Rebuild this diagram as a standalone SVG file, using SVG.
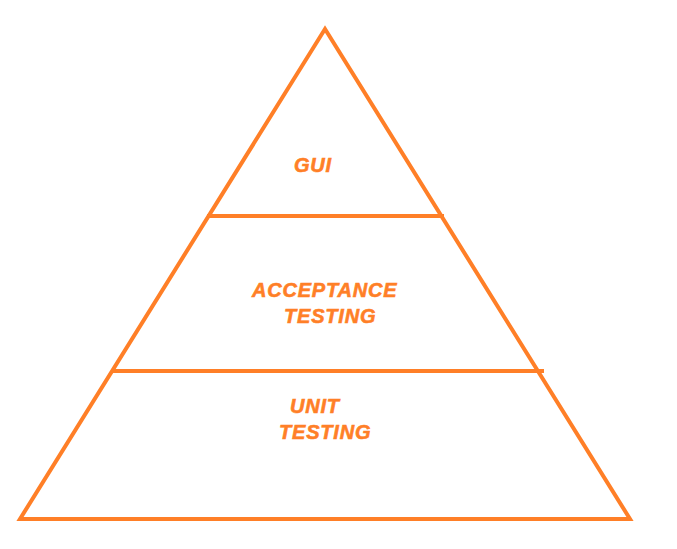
<svg xmlns="http://www.w3.org/2000/svg" width="677" height="549" viewBox="0 0 677 549">
<style>
.ln{stroke:#FF7F27;stroke-width:4;fill:none;stroke-linejoin:miter;stroke-linecap:square}
.t{font-family:"Liberation Sans",Arial,sans-serif;font-weight:bold;font-style:italic;font-size:20px;fill:#FF7F27;stroke:#FF7F27;stroke-width:0.6;letter-spacing:0.8px}
</style>
<rect width="677" height="549" fill="#ffffff"/>
<g id="connectors">
<polygon class="ln" points="325,29 20,519 630,519"/>
<line class="ln" x1="209" y1="216" x2="442" y2="216"/>
<line class="ln" x1="113" y1="371" x2="542" y2="371"/>
</g>
<g id="gui"><text class="t" x="294" y="172">GUI</text></g>
<g id="acceptance"><text class="t" x="252" y="297">ACCEPTANCE</text><text class="t" x="284" y="323">TESTING</text></g>
<g id="unit"><text class="t" x="290" y="413">UNIT</text><text class="t" x="279" y="439">TESTING</text></g>
</svg>
